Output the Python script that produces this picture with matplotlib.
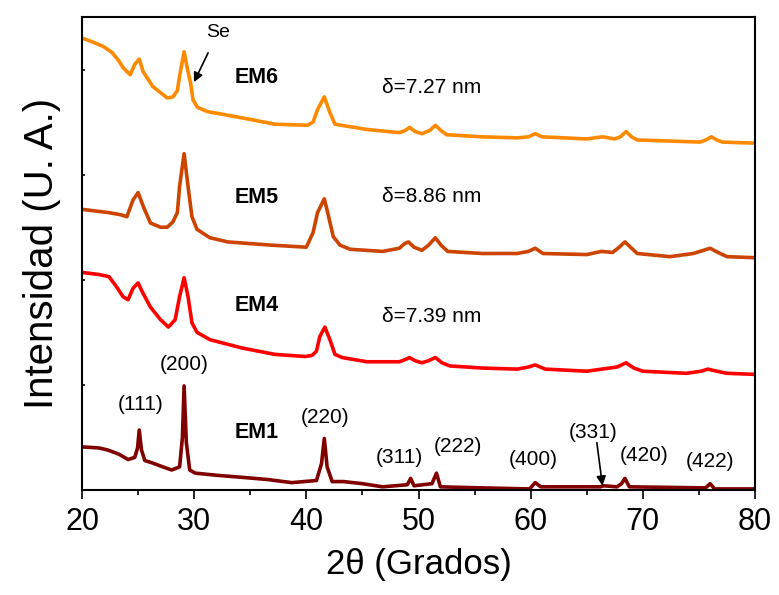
import matplotlib
matplotlib.use("Agg")
import matplotlib.pyplot as plt

# XRD patterns (2theta in degrees, intensity in arbitrary offset units)
x_em6 = [20.0, 21.0, 21.9, 22.7, 23.3, 23.65, 24.3, 24.7, 25.1, 25.45, 26.3, 27.0, 27.6, 28.1, 28.5,
         28.75, 29.1, 29.35, 29.7, 29.9, 30.3, 31.2, 34.3, 37.2, 40.1, 40.6, 41.0, 41.6, 42.1, 42.55,
         45.4, 48.3, 48.8, 49.2, 49.7, 50.3, 51.0, 51.5, 52.0, 52.5, 55.7, 58.8, 59.8, 60.4, 61.0,
         65.0, 66.4, 67.5, 68.0, 68.5, 69.0, 69.5, 72.4, 75.1, 75.6, 76.1, 76.6, 77.1, 80.0]
y_em6 = [4.30, 4.26, 4.22, 4.16, 4.08, 4.02, 3.95, 4.05, 4.10, 3.98, 3.84, 3.78, 3.73, 3.74, 3.80,
         3.97, 4.17, 4.03, 3.86, 3.71, 3.64, 3.60, 3.54, 3.48, 3.47, 3.50, 3.62, 3.74, 3.59, 3.48,
         3.43, 3.40, 3.42, 3.45, 3.41, 3.39, 3.42, 3.47, 3.42, 3.38, 3.36, 3.35, 3.36, 3.39, 3.36,
         3.34, 3.36, 3.34, 3.36, 3.41, 3.36, 3.33, 3.32, 3.31, 3.33, 3.36, 3.33, 3.31, 3.30]

x_em5 = [20.0, 22.3, 23.4, 24.0, 24.55, 25.0, 25.45, 26.1, 27.0, 27.6, 28.1, 28.5, 28.7, 29.1, 29.45,
         29.8, 30.25, 31.4, 33.0, 36.8, 40.0, 40.6, 41.0, 41.6, 41.9, 42.4, 43.0, 43.9, 46.8, 48.3,
         48.7, 49.1, 49.6, 50.3, 50.9, 51.5, 52.0, 52.6, 55.7, 58.8, 59.8, 60.4, 61.1, 65.0, 66.3,
         67.3, 67.9, 68.4, 68.9, 69.5, 72.4, 74.5, 75.4, 76.0, 76.7, 77.5, 80.0]
y_em5 = [2.67, 2.64, 2.62, 2.60, 2.76, 2.83, 2.70, 2.54, 2.50, 2.50, 2.55, 2.64, 2.89, 3.20, 2.89,
         2.60, 2.48, 2.40, 2.36, 2.33, 2.31, 2.45, 2.64, 2.77, 2.64, 2.41, 2.33, 2.29, 2.27, 2.30,
         2.34, 2.36, 2.31, 2.28, 2.33, 2.40, 2.33, 2.27, 2.25, 2.25, 2.27, 2.30, 2.25, 2.24, 2.27,
         2.26, 2.31, 2.36, 2.31, 2.25, 2.22, 2.25, 2.28, 2.30, 2.26, 2.22, 2.21]

x_em4 = [20.0, 21.5, 22.4, 23.1, 23.65, 24.1, 24.55, 25.0, 25.35, 26.1, 27.0, 27.7, 28.3, 28.7, 29.1,
         29.45, 29.8, 30.25, 31.4, 34.3, 37.2, 39.9, 40.5, 40.9, 41.2, 41.65, 42.1, 42.55, 43.2,
         45.4, 48.3, 48.8, 49.2, 49.7, 50.3, 50.9, 51.5, 52.1, 52.8, 55.7, 58.8, 59.8, 60.4, 61.3,
         65.0, 67.7, 68.5, 69.2, 70.0, 73.9, 75.2, 75.8, 76.6, 77.5, 80.0]
y_em4 = [2.07, 2.05, 2.03, 1.93, 1.84, 1.81, 1.92, 1.97, 1.89, 1.74, 1.62, 1.55, 1.62, 1.84, 2.02,
         1.84, 1.59, 1.50, 1.43, 1.35, 1.29, 1.27, 1.28, 1.32, 1.46, 1.55, 1.43, 1.29, 1.26,
         1.22, 1.22, 1.24, 1.26, 1.23, 1.21, 1.23, 1.26, 1.21, 1.18, 1.16, 1.15, 1.17, 1.19, 1.15,
         1.13, 1.17, 1.21, 1.16, 1.13, 1.11, 1.13, 1.15, 1.13, 1.11, 1.10]

x_em1 = [20.0, 21.5, 22.3, 23.3, 24.1, 24.7, 24.95, 25.1, 25.3, 25.6, 26.2, 27.2, 28.0, 28.7, 28.95,
         29.1, 29.3, 29.6, 30.1, 32.0, 34.3, 36.5, 38.7, 40.9, 41.35, 41.6, 41.85, 42.3, 43.3, 45.0,
         46.8, 49.0, 49.3, 49.6, 51.2, 51.6, 51.95, 55.7, 59.9, 60.4, 60.9, 66.2, 66.5, 67.7, 68.1,
         68.4, 68.8, 75.6, 76.0, 76.4, 80.0]
y_em1 = [0.41, 0.40, 0.38, 0.34, 0.29, 0.31, 0.40, 0.57, 0.38, 0.28, 0.26, 0.22, 0.19, 0.22, 0.50,
         0.99, 0.45, 0.19, 0.16, 0.14, 0.12, 0.10, 0.07, 0.09, 0.25, 0.49, 0.22, 0.08, 0.08, 0.06,
         0.03, 0.05, 0.11, 0.04, 0.06, 0.16, 0.03, 0.02, 0.01, 0.07, 0.03, 0.03, 0.04, 0.03, 0.06,
         0.11, 0.03, 0.02, 0.06, 0.01, 0.01]

sample_names = ["EM6", "EM5", "EM4", "EM1"]
sample_label_y = [3.92, 2.78, 1.76, 0.55]
sizes = ["δ=7.27 nm", "δ=8.86 nm", "δ=7.39 nm"]
size_label_y = [3.83, 2.79, 1.65]

hkl_labels = ["(111)", "(200)", "(220)", "(311)", "(222)", "(400)", "(331)", "(420)", "(422)"]
hkl_x = [25.2, 29.1, 41.7, 48.3, 53.5, 60.2, 65.6, 70.1, 76.0]
hkl_y = [0.81, 1.19, 0.69, 0.31, 0.41, 0.29, 0.55, 0.33, 0.27]

plt.rcParams["font.family"] = ["Liberation Sans", "DejaVu Sans"]

fig = plt.figure(figsize=(7.79, 5.95), dpi=100)
ax = fig.add_axes([0.1053, 0.1765, 0.8639, 0.7949])

line_kw = dict(lw=2.6, solid_joinstyle="round", solid_capstyle="round")
ax.plot(x_em6, y_em6, color="#FF8A00", **line_kw)
ax.plot(x_em5, y_em5, color="#CC4400", **line_kw)
ax.plot(x_em4, y_em4, color="#FF0000", **line_kw)
ax.plot(x_em1, y_em1, color="#800000", **line_kw)

for name, yy in zip(sample_names, sample_label_y):
    ax.text(35.6, yy, name, fontsize=15.5, fontweight="bold", ha="center", va="center")
for s, yy in zip(sizes, size_label_y):
    ax.text(51.2, yy, s, fontsize=15, ha="center", va="center")
for lab, xx, yy in zip(hkl_labels, hkl_x, hkl_y):
    ax.text(xx, yy, lab, fontsize=15, ha="center", va="center")

# Se shoulder arrow
ax.annotate("Se", xy=(29.98, 3.88), xytext=(32.1, 4.35), fontsize=14, ha="center", va="center",
            arrowprops=dict(arrowstyle="-|>", color="black", lw=1.2, shrinkA=7, shrinkB=0,
                            mutation_scale=14))
# (331) arrow
ax.annotate("", xy=(66.4, 0.04), xytext=(65.9, 0.45),
            arrowprops=dict(arrowstyle="-|>", color="black", lw=1.2, shrinkA=0, shrinkB=0,
                            mutation_scale=14))

ax.set_xlim(20, 80)
ax.set_ylim(0, 4.5)
ax.set_xticks([20, 30, 40, 50, 60, 70, 80])
ax.set_xticks([25, 35, 45, 55, 65, 75], minor=True)
ax.set_yticks([0, 1, 2, 3, 4])
ax.set_yticklabels([])
ax.tick_params(axis="x", which="major", direction="out", length=6.5, width=1.2, labelsize=22, pad=6)
ax.tick_params(axis="x", which="minor", direction="out", length=3.5, width=1.2)
ax.tick_params(axis="y", direction="in", length=2.5, width=1.2)
for sp in ax.spines.values():
    sp.set_linewidth(1.5)

ax.set_xlabel("2θ (Grados)", fontsize=25, labelpad=8)
ax.set_ylabel("Intensidad (U. A.)", fontsize=29, labelpad=12)

fig.savefig("out.png", dpi=100)
